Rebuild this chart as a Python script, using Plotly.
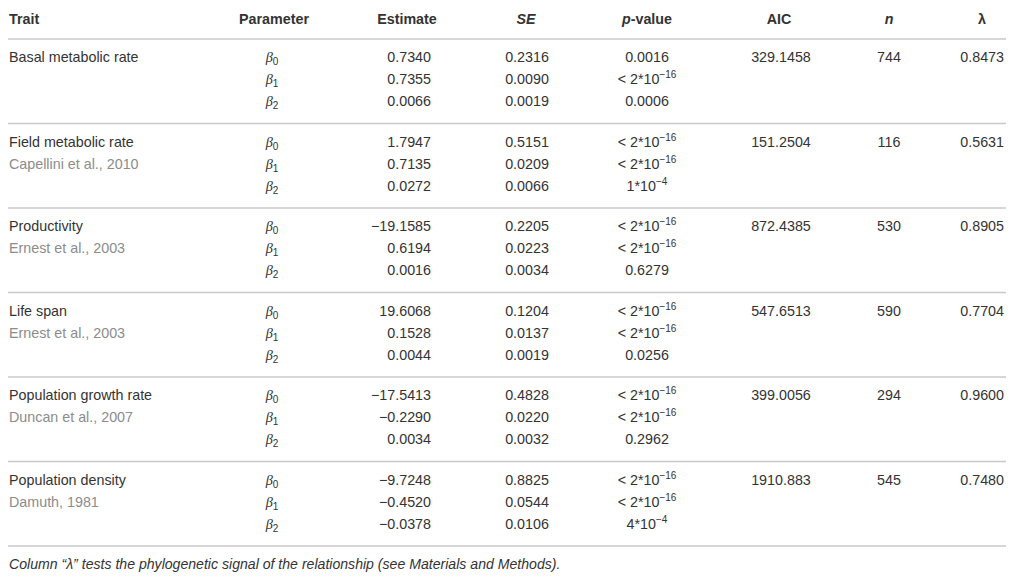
import plotly.graph_objects as go

traits = ["Basal metabolic rate", "Field metabolic rate", "Productivity",
          "Life span", "Population growth rate", "Population density"]
sources = ["", "Capellini et al., 2010", "Ernest et al., 2003",
           "Ernest et al., 2003", "Duncan et al., 2007", "Damuth, 1981"]
BETA = "<span style='font-family:Liberation Serif, serif'><i>β</i></span>"
params = [BETA + "<sub>0</sub>", BETA + "<sub>1</sub>", BETA + "<sub>2</sub>"]

estimate = ["0.7340", "0.7355", "0.0066",
            "1.7947", "0.7135", "0.0272",
            "−19.1585", "0.6194", "0.0016",
            "19.6068", "0.1528", "0.0044",
            "−17.5413", "−0.2290", "0.0034",
            "−9.7248", "−0.4520", "−0.0378"]
se = ["0.2316", "0.0090", "0.0019",
      "0.5151", "0.0209", "0.0066",
      "0.2205", "0.0223", "0.0034",
      "0.1204", "0.0137", "0.0019",
      "0.4828", "0.0220", "0.0032",
      "0.8825", "0.0544", "0.0106"]
LT = "&lt; 2*10<sup>−16</sup>"
pvalue = ["0.0016", LT, "0.0006",
          LT, LT, "1*10<sup>−4</sup>",
          LT, LT, "0.6279",
          LT, LT, "0.0256",
          LT, LT, "0.2962",
          LT, LT, "4*10<sup>−4</sup>"]
aic = ["329.1458", "151.2504", "872.4385", "547.6513", "399.0056", "1910.883"]
n = ["744", "116", "530", "590", "294", "545"]
lam = ["0.8473", "0.5631", "0.8905", "0.7704", "0.9600", "0.7480"]

headers = ["<b>Trait</b>", "<b>Parameter</b>", "<b>Estimate</b>", "<b><i>SE</i></b>",
           "<b><i>p</i>-value</b>", "<b>AIC</b>", "<b><i>n</i></b>", "<b>λ</b>"]
footnote = ("<i>Column “λ” tests the phylogenetic signal of the relationship "
            "(see Materials and Methods).</i>")

# the page body has an 8px margin, so the axes are set up in window pixels
W, H = 1014, 580
PAD = 8
HEAD_Y = 20
TOP_LINE, HEAD_LINE, GROUP_H = 3, 39, 84.5
SUB_DY = [19.5, 41.5, 63.5]
FOOT_Y = 565
TXT = "#333333"
GREY = "#8c8c8c"
LINE = "#c8c8c8"
FONT = "Liberation Sans, Arial, sans-serif"
FS = 14.3

group_top = [HEAD_LINE + GROUP_H * g for g in range(len(traits))]
row_y = [group_top[g] + SUB_DY[r] for g in range(len(traits)) for r in range(3)]
first_y = [group_top[g] + SUB_DY[0] for g in range(len(traits))]
second_y = [group_top[g] + SUB_DY[1] for g in range(len(traits))]

fig = go.Figure()


def add_text(xpos, ys, texts, pos, color=TXT, size=FS):
    fig.add_trace(go.Scatter(
        x=[xpos] * len(ys), y=ys, text=texts, mode="text",
        textposition=pos, textfont=dict(family=FONT, size=size, color=color),
        cliponaxis=False, hoverinfo="skip", showlegend=False,
    ))


# header
head_x = [9, 274, 407, 526, 647, 779, 889, 982]
head_pos = ["middle right"] + ["middle center"] * 7
for hx, ht, hp in zip(head_x, headers, head_pos):
    add_text(hx, [HEAD_Y], [ht], hp)

# body
add_text(9, first_y, traits, "middle right")
add_text(9, second_y, sources, "middle right", color=GREY)
add_text(272, row_y, params * len(traits), "middle center")
add_text(431, row_y, estimate, "middle left")
add_text(527, row_y, se, "middle center")
add_text(647, row_y, pvalue, "middle center")
add_text(781, first_y, aic, "middle center")
add_text(889, first_y, n, "middle center")
add_text(1004, first_y, lam, "middle left")

# footnote
add_text(9, [FOOT_Y], [footnote], "middle right", size=14.1)

# horizontal rules
for ly in [TOP_LINE, HEAD_LINE] + [t + GROUP_H for t in group_top]:
    fig.add_shape(type="line", xref="x", yref="y", x0=PAD, x1=1012, y0=ly, y1=ly,
                  line=dict(color=LINE, width=1.5))

# keep body margins inside the window so no scrollbar appears
fig.update_xaxes(range=[PAD, W], visible=False, fixedrange=True)
fig.update_yaxes(range=[H - PAD, PAD], visible=False, fixedrange=True)
fig.update_layout(
    width=W - PAD, height=H - 2 * PAD,
    margin=dict(l=0, r=0, t=0, b=0),
    paper_bgcolor="white", plot_bgcolor="white",
)

fig.write_html("out.html")
